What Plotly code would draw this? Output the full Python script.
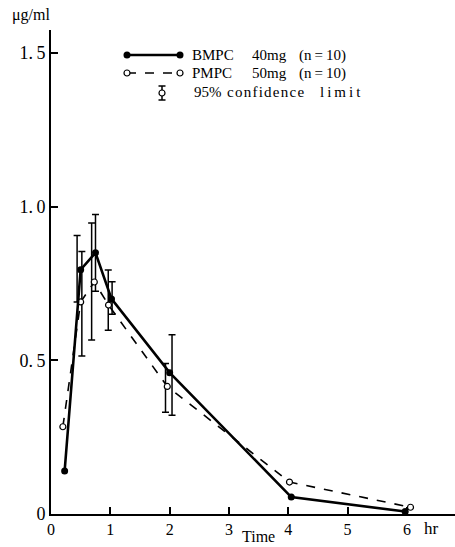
import plotly.graph_objects as go

# ---- data ----
bmpc_t = [0.23, 0.5, 0.75, 1.02, 2.0, 4.05, 5.97]
bmpc_c = [0.14, 0.795, 0.85, 0.70, 0.46, 0.055, 0.008]
pmpc_t = [0.2, 0.5, 0.73, 0.97, 1.96, 4.02, 6.06]
pmpc_c = [0.284, 0.69, 0.755, 0.68, 0.415, 0.104, 0.022]

# 95% confidence limits (drawn slightly offset in time in the original)
bmpc_ci_t = [0.44, 0.75, 1.03, 2.04]
bmpc_lo = [0.69, 0.725, 0.65, 0.321]
bmpc_hi = [0.906, 0.975, 0.756, 0.583]
pmpc_ci_t = [0.52, 0.685, 0.965, 1.93]
pmpc_lo = [0.514, 0.566, 0.598, 0.331]
pmpc_hi = [0.854, 0.947, 0.794, 0.49]

x_ticks = [0, 1, 2, 3, 4, 5, 6]
y_ticks = [0, 0.5, 1.0, 1.5]
y_ticktext = ["0", "0.\u20095", "1.\u20090", "1.\u20095"]

legend_labels = [["BMPC", "40mg", "(n\u2009=\u200910)"],
                 ["PMPC", "50mg", "(n\u2009=\u200910)"]]

FONT = "'Liberation Serif', 'Times New Roman', serif"
W, H = 455, 547

fig = go.Figure()


def ci_trace(t, lo, hi):
    mid = [(a + b) / 2 for a, b in zip(lo, hi)]
    half = [(b - a) / 2 for a, b in zip(lo, hi)]
    return go.Scatter(
        x=t, y=mid, mode="markers",
        marker=dict(size=1, color="rgba(0,0,0,0)"),
        error_y=dict(type="data", array=half, symmetric=True,
                     color="black", thickness=1.5, width=3.5),
        showlegend=False, hoverinfo="skip", xaxis="x", yaxis="y")


fig.add_trace(ci_trace(bmpc_ci_t, bmpc_lo, bmpc_hi))
fig.add_trace(ci_trace(pmpc_ci_t, pmpc_lo, pmpc_hi))

fig.add_trace(go.Scatter(
    x=pmpc_t, y=pmpc_c, mode="lines+markers",
    line=dict(color="black", width=1.6, dash="dash"),
    marker=dict(symbol="circle", size=6, color="white",
                line=dict(color="black", width=1.2)),
    showlegend=False, xaxis="x", yaxis="y"))

fig.add_trace(go.Scatter(
    x=bmpc_t, y=bmpc_c, mode="lines+markers",
    line=dict(color="black", width=2.6),
    marker=dict(symbol="circle", size=7, color="black"),
    showlegend=False, xaxis="x", yaxis="y"))

# ---- custom legend drawn on a pixel-coordinate overlay axis ----
fig.add_trace(go.Scatter(
    x=[127, 180], y=[55, 55], mode="lines+markers",
    line=dict(color="black", width=2.6),
    marker=dict(size=7, color="black"),
    showlegend=False, hoverinfo="skip", xaxis="x2", yaxis="y2"))
fig.add_trace(go.Scatter(
    x=[127, 180], y=[73, 73], mode="lines+markers",
    line=dict(color="black", width=1.6, dash="dash"),
    marker=dict(size=6, color="white", line=dict(color="black", width=1.2)),
    showlegend=False, hoverinfo="skip", xaxis="x2", yaxis="y2"))
fig.add_trace(go.Scatter(
    x=[162], y=[93], mode="markers",
    marker=dict(size=6, color="white", line=dict(color="black", width=1.2)),
    error_y=dict(type="data", array=[7], symmetric=True,
                 color="black", thickness=1.5, width=3.5),
    showlegend=False, hoverinfo="skip", xaxis="x2", yaxis="y2"))

ann = []
for row, yy in zip(legend_labels, [55, 73]):
    for txt, xx in zip(row, [190, 250, 297]):
        ann.append(dict(x=xx, y=yy, text=txt, xref="x2", yref="y2",
                        xanchor="left", yanchor="middle", showarrow=False,
                        font=dict(family=FONT, size=15, color="black")))
for txt, xx in zip(["95%", "c\u200ao\u200an\u200af\u200ai\u200ad\u200ae\u200an\u200ac\u200ae",
                    "l\u2009i\u2009m\u2009i\u2009t"], [192, 225, 318]):
    ann.append(dict(x=xx, y=92, text=txt, xref="x2", yref="y2",
                    xanchor="left", yanchor="middle", showarrow=False,
                    font=dict(family=FONT, size=15, color="black")))

ann.append(dict(x=10, y=15, text="\u03bcg/ml", xref="x2", yref="y2",
                xanchor="left", yanchor="middle", showarrow=False,
                font=dict(family=FONT, size=16, color="black")))
ann.append(dict(x=422, y=528, text="hr", xref="x2", yref="y2",
                xanchor="left", yanchor="middle", showarrow=False,
                font=dict(family=FONT, size=17, color="black")))
ann.append(dict(x=258, y=536, text="Time", xref="x2", yref="y2",
                xanchor="center", yanchor="middle", showarrow=False,
                font=dict(family=FONT, size=16, color="black")))

fig.update_layout(
    width=W, height=H,
    margin=dict(l=0, r=0, t=0, b=0, autoexpand=False),
    paper_bgcolor="white", plot_bgcolor="rgba(0,0,0,0)",
    showlegend=False,
    annotations=ann,
    xaxis=dict(domain=[51 / W, 1.0], range=[0, 6.81], automargin=False,
               tickvals=x_ticks, ticktext=[str(v) for v in x_ticks],
               ticks="inside", ticklen=7, tickwidth=1.5, tickcolor="black",
               showline=True, linecolor="black", linewidth=2,
               showgrid=False, zeroline=False, anchor="y",
               tickfont=dict(family=FONT, size=16, color="black")),
    yaxis=dict(domain=[33 / H, 517 / H], range=[0, 1.575], automargin=False,
               tickvals=y_ticks, ticktext=y_ticktext,
               ticks="inside", ticklen=7, tickwidth=1.5, tickcolor="black",
               showline=True, linecolor="black", linewidth=1.8,
               showgrid=False, zeroline=False, anchor="x",
               tickfont=dict(family=FONT, size=18, color="black")),
    xaxis2=dict(domain=[0, 1], range=[0, W], visible=False, anchor="y2",
                fixedrange=True, automargin=False),
    yaxis2=dict(domain=[0, 1], range=[H, 0], visible=False, anchor="x2",
                fixedrange=True, automargin=False),
)

fig.write_html(
    "out.html",
    config={"displayModeBar": False},
    post_script="document.body.style.margin='0';"
                "document.body.style.overflow='hidden';",
)
